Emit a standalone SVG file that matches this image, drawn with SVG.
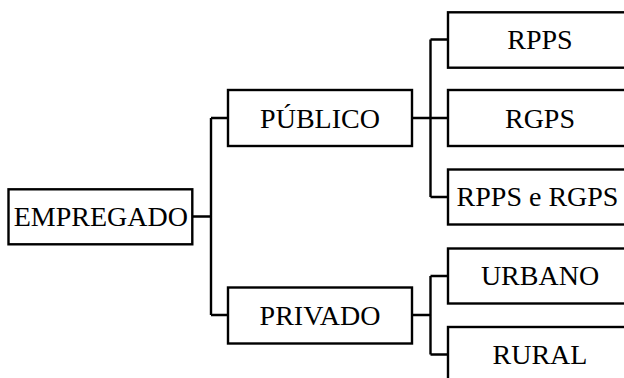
<svg xmlns="http://www.w3.org/2000/svg" width="624" height="378" viewBox="0 0 624 378">
<style>
.box{fill:#fff;stroke:#000;stroke-width:2.4}
.lbl{font-family:"Liberation Serif","Times New Roman",serif;font-size:28px;fill:#000;text-anchor:middle}
.con{fill:none;stroke:#000;stroke-width:2.4}
</style>
<rect width="624" height="378" fill="#fff"/>
<g id="connectors">
<path class="con" d="M192 216.5H211M211 118V315M211 118H228M211 315H228"/>
<path class="con" d="M412 118H430.5M430.5 39.5V197M430.5 39.5H448M430.5 118H448M430.5 197H448"/>
<path class="con" d="M412 315H430.5M430.5 276V354.5M430.5 276H448M430.5 354.5H448"/>
</g>
<g id="empregado"><rect class="box" x="8.5" y="189.3" width="183.8" height="55"/><text class="lbl" x="100.8" y="226.3">EMPREGADO</text></g>
<g id="publico"><rect class="box" x="228" y="90" width="184" height="56"/><text class="lbl" x="320" y="127.5">PÚBLICO</text></g>
<g id="privado"><rect class="box" x="228" y="287.5" width="184" height="56"/><text class="lbl" x="320" y="325">PRIVADO</text></g>
<g id="rpps"><rect class="box" x="448" y="12.3" width="184" height="55.4"/><text class="lbl" x="540" y="48.8">RPPS</text></g>
<g id="rgps"><rect class="box" x="448" y="90" width="184" height="56"/><text class="lbl" x="540" y="127.5">RGPS</text></g>
<g id="rpps-rgps"><rect class="box" x="448" y="169.5" width="184" height="55"/><text class="lbl" x="537.5" y="206.3">RPPS e RGPS</text></g>
<g id="urbano"><rect class="box" x="448" y="248.5" width="184" height="55"/><text class="lbl" x="540" y="285.3">URBANO</text></g>
<g id="rural"><rect class="box" x="448" y="327" width="184" height="55"/><text class="lbl" x="540" y="363.8">RURAL</text></g>
</svg>
